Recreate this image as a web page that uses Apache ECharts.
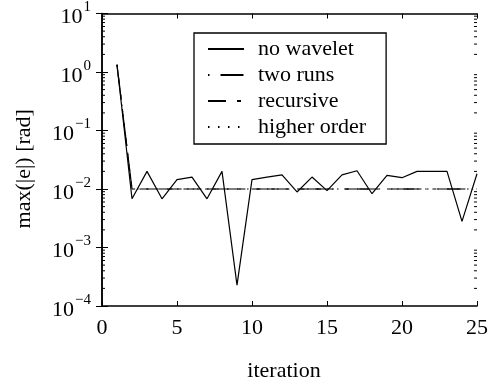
<!DOCTYPE html>
<html>
<head>
<meta charset="utf-8">
<script src="https://cdn.jsdelivr.net/npm/echarts@6/dist/echarts.min.js"></script>
<style>html,body{margin:0;padding:0;background:#fff;}#c{width:491px;height:387px;}</style>
</head>
<body>
<div id="c"></div>
<script>
const iterations = [1,2,3,4,5,6,7,8,9,10,11,12,13,14,15,16,17,18,19,20,21,22,23,24,25];
const noWavelet = [1.34,0.0068,0.020,0.0068,0.0145,0.016,0.0068,0.020,0.000227,0.0145,0.016,0.0175,0.0089,0.016,0.0094,0.0174,0.0205,0.0083,0.0171,0.0156,0.020,0.020,0.020,0.0028,0.0182];
const twoRuns = [1.34,0.01,0.01,0.01,0.01,0.01,0.01,0.01,0.01,0.01,0.01,0.01,0.01,0.01,0.01,0.01,0.01,0.01,0.01,0.01,0.01,0.01,0.01,0.01,0.01];
const recursive = [1.30,0.01,0.01,0.01,0.01,0.01,0.01,0.01,0.01,0.01,0.01,0.01,0.01,0.01,0.01,0.01,0.01,0.01,0.01,0.01,0.01,0.01,0.01,0.01,0.01];
const higherOrder = [1.32,0.01,0.01,0.01,0.01,0.01,0.01,0.01,0.01,0.01,0.01,0.01,0.01,0.01,0.01,0.01,0.01,0.01,0.01,0.01,0.01,0.01,0.01,0.01,0.01];
const seriesNames = ['no wavelet','two runs','recursive','higher order'];
const xTicks = [0,5,10,15,20,25];
const yExponents = [-4,-3,-2,-1,0,1];
const minorTickValues = [
  2e-4,3e-4,4e-4,5e-4,6e-4,7e-4,8e-4,9e-4,
  2e-3,3e-3,4e-3,5e-3,6e-3,7e-3,8e-3,9e-3,
  2e-2,3e-2,4e-2,5e-2,6e-2,7e-2,8e-2,9e-2,
  2e-1,3e-1,4e-1,5e-1,6e-1,7e-1,8e-1,9e-1,
  2,3,4,5,6,7,8,9
];
const xLabel = 'iteration';
const yLabel = 'max(|e|) [rad]';

const FONT = 'Liberation Serif';
const FS = 22;
const pairs = (ys) => iterations.map((x, i) => [x, ys[i]]);
const supMap = {'-':'\u2212'};
const fmtPow = (v) => {
  const e = Math.round(Math.log10(v));
  const es = String(e).split('').map(c => supMap[c] || c).join('');
  return '{b|10}{s|' + es + '}';
};

const lineBase = {type: 'line', symbol: 'none', showSymbol: false, animation: false, xAxisIndex: 0, yAxisIndex: 0};
const option = {
  animation: false,
  grid: {left: 102, right: 12, top: 12, bottom: 75},
  legend: {
    orient: 'vertical', left: 194, top: 33,
    data: seriesNames,
    backgroundColor: '#fff',
    borderColor: '#000', borderWidth: 1.3, borderRadius: 0,
    padding: [5, 20, 6, 13],
    itemWidth: 36, itemHeight: 14, itemGap: 4,
    itemStyle: {opacity: 0},
    textStyle: {fontFamily: FONT, fontSize: FS, color: '#000', padding: [0,0,0,9], lineHeight: 22},
    selectedMode: false
  },
  xAxis: [{
    type: 'value', min: 0, max: 25, interval: 5, position: 'bottom',
    name: xLabel, nameLocation: 'middle', nameGap: 54,
    nameTextStyle: {fontFamily: FONT, fontSize: FS, color: '#000', padding: [0, 11, 0, 0]},
    axisLine: {lineStyle: {color: '#000', width: 1.5}},
    axisTick: {inside: true, length: 5, lineStyle: {color: '#000'}},
    axisLabel: {fontFamily: FONT, fontSize: FS, color: '#000', margin: 11, formatter: (v) => xTicks.includes(v) ? String(v) : ''},
    splitLine: {show: false}
  }, {
    type: 'value', min: 0, max: 25, interval: 5, position: 'top',
    axisLine: {lineStyle: {color: '#000', width: 1.5}},
    axisTick: {inside: true, length: 5, lineStyle: {color: '#000'}},
    axisLabel: {show: false}, splitLine: {show: false}
  }],
  yAxis: [{
    type: 'log', logBase: 10, min: Math.pow(10, yExponents[0]), max: Math.pow(10, yExponents[yExponents.length-1]), position: 'left',
    name: yLabel, nameLocation: 'middle', nameGap: 67, nameRotate: 90,
    nameTextStyle: {fontFamily: FONT, fontSize: FS, color: '#000', padding: [0, 18, 0, 0]},
    axisLine: {lineStyle: {color: '#000', width: 1.5}},
    axisTick: {inside: true, length: 6, lineStyle: {color: '#000'}},
    axisLabel: {margin: 11, formatter: fmtPow, rich: {
      b: {fontFamily: FONT, fontSize: FS, color: '#000', padding: [8,0,0,0]},
      s: {fontFamily: FONT, fontSize: 15, color: '#000', padding: [0,0,12,1]}
    }},
    splitLine: {show: false}
  }, {
    type: 'log', logBase: 10, min: 1e-4, max: 10, position: 'right',
    axisLine: {lineStyle: {color: '#000', width: 1.5}},
    axisTick: {inside: true, length: 6, lineStyle: {color: '#000'}},
    axisLabel: {show: false}, splitLine: {show: false}
  }],
  series: [
    Object.assign({}, lineBase, {name: seriesNames[0], data: pairs(noWavelet), z: 5,
      lineStyle: {color: '#000', width: 1.2, type: 'solid'}, itemStyle: {color: '#000'}}),
    Object.assign({}, lineBase, {name: seriesNames[1], data: pairs(twoRuns),
      lineStyle: {color: '#000', width: 1.2, type: [1.5, 11, 23, 11]}, itemStyle: {color: '#000'}}),
    Object.assign({}, lineBase, {name: seriesNames[2], data: pairs(recursive),
      lineStyle: {color: '#000', width: 1.2, type: [18, 11, 4, 11]}, itemStyle: {color: '#000'}}),
    Object.assign({}, lineBase, {name: seriesNames[3], data: pairs(higherOrder),
      lineStyle: {color: '#000', width: 1.2, type: [1.5, 8.5]}, itemStyle: {color: '#000'}}),
    {
      type: 'custom', name: 'minorTicks', xAxisIndex: 0, yAxisIndex: 0, silent: true, z: 1,
      data: minorTickValues.map(v => [0, v]),
      renderItem: (params, api) => {
        const v = api.value(1);
        const l = api.coord([0, v]);
        const r = api.coord([25, v]);
        return {type: 'group', children: [
          {type: 'line', shape: {x1: l[0], y1: l[1], x2: l[0] + 3, y2: l[1]}, style: {stroke: '#000', lineWidth: 1}},
          {type: 'line', shape: {x1: r[0], y1: r[1], x2: r[0] - 3, y2: r[1]}, style: {stroke: '#000', lineWidth: 1}}
        ]};
      }
    }
  ]
};
const chart = echarts.init(document.getElementById('c'), null, {renderer: 'canvas'});
chart.setOption(option);
</script>
</body>
</html>
